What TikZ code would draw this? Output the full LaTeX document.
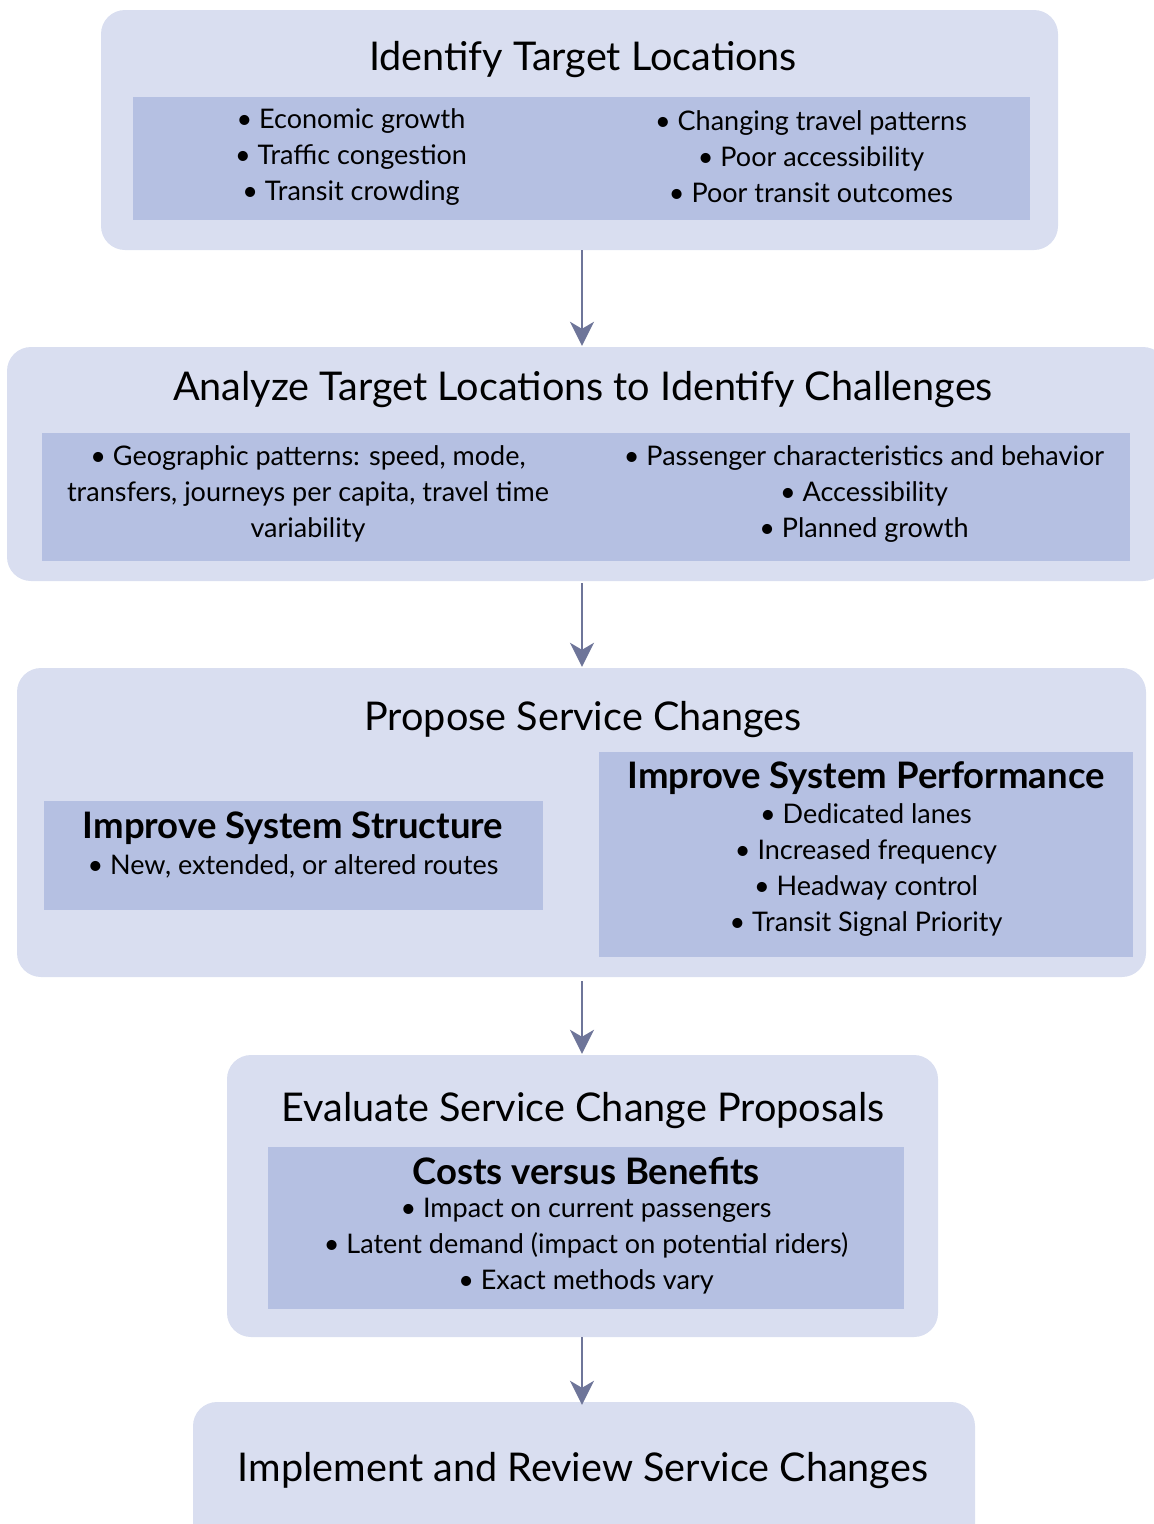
\documentclass[tikz,border=0pt]{standalone}
\usepackage{fontspec}
\setmainfont{Lato}
\usetikzlibrary{arrows.meta}
\definecolor{outerfill}{RGB}{217,222,240}
\definecolor{innerfill}{RGB}{181,192,226}
\definecolor{arrowcol}{RGB}{110,117,153}
\tikzset{
  stagebox/.style={fill=outerfill, draw=none, rounded corners=24pt, inner sep=0pt},
  listbox/.style={fill=innerfill, draw=none, inner sep=0pt},
  titletext/.style={font=\fontsize{39.6}{44}\selectfont, text=black, inner sep=0pt},
  bodytext/.style={font=\fontsize{27}{36}\selectfont, text=black, align=center, inner sep=0pt},
  headtext/.style={font=\fontsize{36.5}{40}\bfseries\selectfont, text=black, inner sep=0pt},
  flow/.style={draw=arrowcol, line width=2.6pt, -{Stealth[length=24pt,width=24pt,inset=7pt]}, shorten >=1pt}
}
\begin{document}
\begin{tikzpicture}[x=1pt,y=-1pt]
\useasboundingbox (0,0) rectangle (1154,1524);

% stage 1
\node[stagebox, minimum width=957pt, minimum height=240pt] (s1) at (579.5,130) {};
\node[listbox, minimum width=897pt, minimum height=123pt] (l1) at (581.5,158.5) {};
\node[titletext] (t1) at (583,60) {Identify Target Locations};
\node[bodytext] (b1a) at (351,157) {• Economic growth\\• Traffic congestion\\• Transit crowding};
\node[bodytext] (b1b) at (811,157) {• Changing travel patterns\\• Poor accessibility\\• Poor transit outcomes};

% stage 2
\node[stagebox, minimum width=1160pt, minimum height=234pt] (s2) at (587,464) {};
\node[listbox, minimum width=1088pt, minimum height=128pt] (l2) at (586,497) {};
\node[titletext] (t2) at (583,390) {Analyze Target Locations to Identify Challenges};
\node[bodytext] (b2a) at (308,494) {• Geographic patterns: speed, mode,\\transfers, journeys per capita, travel time\\variability};
\node[bodytext] (b2b) at (864,494) {• Passenger characteristics and behavior\\• Accessibility\\• Planned growth};

% stage 3
\node[stagebox, minimum width=1129pt, minimum height=309pt] (s3) at (581.5,822.5) {};
\node[titletext] (t3) at (583,720) {Propose Service Changes};
\node[listbox, minimum width=499pt, minimum height=109pt] (l3a) at (293.5,855.5) {};
\node[headtext] (h3a) at (293,828) {Improve System Structure};
\node[bodytext] (b3a) at (293,866) {• New, extended, or altered routes};
\node[listbox, minimum width=534pt, minimum height=205pt] (l3b) at (866,854.5) {};
\node[headtext] (h3b) at (866,778) {Improve System Performance};
\node[bodytext] (b3b) at (866,870) {• Dedicated lanes\\• Increased frequency\\• Headway control\\• Transit Signal Priority};

% stage 4
\node[stagebox, minimum width=711pt, minimum height=282pt] (s4) at (582.5,1196) {};
\node[listbox, minimum width=636pt, minimum height=162pt] (l4) at (586,1228) {};
\node[titletext] (t4) at (583,1111) {Evaluate Service Change Proposals};
\node[headtext] (h4) at (586,1171) {Costs versus Benefits};
\node[bodytext] (b4) at (586,1246) {• Impact on current passengers\\• Latent demand (impact on potential riders)\\• Exact methods vary};

% stage 5
\node[stagebox, minimum width=782pt, minimum height=160pt] (s5) at (584,1482) {};
\node[titletext] (t5) at (583,1471) {Implement and Review Service Changes};

% connectors between stages
\draw[flow] (s1.south -| 582,0) -- (s2.north -| 582,0);
\draw[flow] (s2.south -| 582,0) ++(0,2) -- (s3.north -| 582,0);
\draw[flow] (s3.south -| 582,0) ++(0,4) -- (s4.north -| 582,0);
\draw[flow] (s4.south -| 582,0) -- ([yshift=-4pt]s5.north -| 582,0);
\end{tikzpicture}
\end{document}
